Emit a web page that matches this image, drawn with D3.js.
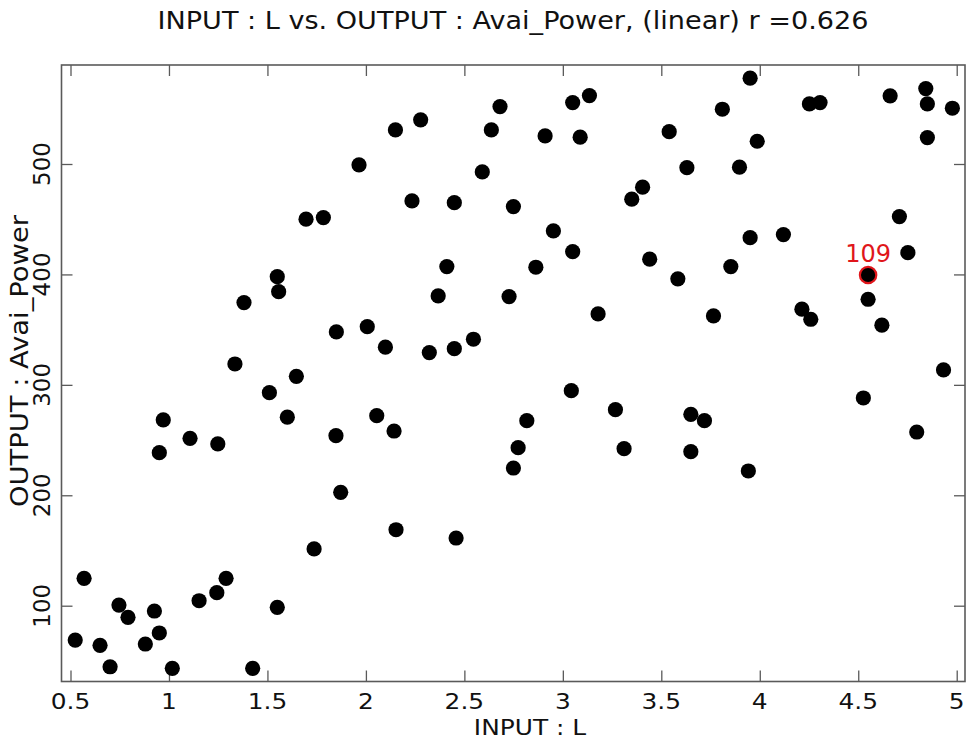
<!DOCTYPE html>
<html>
<head>
<meta charset="utf-8">
<script src="https://cdn.jsdelivr.net/npm/d3@7"></script>
<style>
  html, body { margin: 0; padding: 0; background: #fff; }
  svg { display: block; font-family: "DejaVu Sans", Verdana, sans-serif; }
</style>
</head>
<body>
<svg id="chart" width="967" height="741"></svg>
<script>
// ---- data ----
const titleText = "INPUT : L vs. OUTPUT : Avai_Power, (linear) r =0.626";
const xLabelText = "INPUT : L";
const yLabelText = "OUTPUT : Avai_Power";
const xTicks = [0.5, 1, 1.5, 2, 2.5, 3, 3.5, 4, 4.5, 5];
const xTickLabels = ["0.5", "1", "1.5", "2", "2.5", "3", "3.5", "4", "4.5", "5"];
const yTicks = [100, 200, 300, 400, 500];
const yTickLabels = ["100", "200", "300", "400", "500"];

const inputL = [
  1.696, 1.784, 1.550, 1.557, 1.381, 1.335, 1.647, 1.850, 2.150, 2.278,
  1.965, 2.681, 2.637, 3.050, 3.135, 2.910, 3.088, 2.591, 3.405, 3.350,
  2.234, 2.449, 2.749, 2.952, 3.050, 3.441, 2.411, 2.863, 2.367, 2.727,
  3.179, 2.007, 2.099, 2.322, 2.449, 2.546, 3.951, 3.810, 4.252, 4.306,
  4.662, 4.843, 4.851, 4.978, 4.851, 3.540, 3.987, 3.630, 3.897, 4.709,
  3.951, 4.120, 4.752, 3.853, 3.584, 4.550, 4.550, 3.765, 4.214, 4.259,
  4.620, 4.933, 1.510, 1.601, 0.971, 0.951, 1.107, 1.248, 1.737, 0.569,
  1.290, 1.243, 1.153, 0.746, 0.792, 0.926, 1.550, 0.524, 0.650, 0.880,
  0.951, 0.701, 1.017, 1.425, 1.848, 1.872, 2.055, 2.143, 2.153, 2.458,
  2.817, 2.773, 2.749, 3.043, 3.267, 3.311, 3.650, 3.719, 3.650, 3.942,
  4.526, 4.797
];
const availPower = [
  450.0, 451.5, 398.0, 384.4, 374.5, 318.9, 307.7, 347.9, 530.9, 540.0,
  499.2, 552.0, 530.9, 555.6, 562.0, 525.4, 524.3, 492.8, 479.0, 468.1,
  466.6, 465.0, 461.4, 439.4, 420.7, 413.8, 407.1, 406.5, 380.5, 379.9,
  364.2, 352.7, 334.1, 329.2, 332.8, 341.3, 577.7, 549.6, 554.4, 555.6,
  561.7, 568.3, 554.4, 550.5, 523.9, 529.3, 520.6, 496.7, 497.1, 452.4,
  433.3, 436.1, 419.7, 407.1, 396.0, 399.5, 377.5, 362.4, 368.5, 359.4,
  354.0, 313.5, 292.9, 270.7, 268.2, 238.6, 251.6, 246.5, 151.4, 124.8,
  124.8, 111.8, 104.5, 100.6, 89.5, 95.2, 98.5, 68.9, 64.1, 65.3,
  75.3, 44.7, 43.3, 43.3, 254.0, 202.7, 272.1, 258.2, 168.8, 161.3,
  267.6, 243.1, 224.7, 294.7, 277.5, 242.2, 273.3, 267.6, 239.5, 222.0,
  288.1, 257.3
];
const highlightIndex = 55;
const highlightLabel = "109";

// ---- layout ----
const svg = d3.select("#chart");
const plotLeft = 61.5, plotRight = 965, plotTop = 65, plotBottom = 681.5;
const xDomain = [0.4543, 5.0421];
const yDomain = [31.36, 589.65];
const x = d3.scaleLinear().domain(xDomain).range([plotLeft, plotRight]);
const y = d3.scaleLinear().domain(yDomain).range([plotBottom, plotTop]);
const frameColor = "#5a5a5a";
const stretch = 1.13;

// title
svg.append("text")
  .attr("x", 513).attr("y", 29)
  .attr("text-anchor", "middle")
  .attr("font-size", 24)
  .attr("fill", "#111")
  .attr("textLength", 711)
  .attr("lengthAdjust", "spacingAndGlyphs")
  .text(titleText);

// axes (ticks inward on all sides)
const tickLen = 11;
const axB = d3.axisBottom(x).tickValues(xTicks).tickSize(tickLen).tickFormat("");
const axT = d3.axisTop(x).tickValues(xTicks).tickSize(tickLen).tickFormat("");
const axL = d3.axisLeft(y).tickValues(yTicks).tickSize(tickLen).tickFormat("");
const axR = d3.axisRight(y).tickValues(yTicks).tickSize(tickLen).tickFormat("");

function styleAxis(g) {
  g.select(".domain").remove();
  g.selectAll(".tick line").attr("stroke", frameColor).attr("stroke-width", 1.3);
}
svg.append("g").attr("transform", `translate(0,${plotBottom - tickLen})`).call(axB).call(styleAxis);
svg.append("g").attr("transform", `translate(0,${plotTop + tickLen})`).call(axT).call(styleAxis);
svg.append("g").attr("transform", `translate(${plotLeft + tickLen},0)`).call(axL).call(styleAxis);
svg.append("g").attr("transform", `translate(${plotRight - tickLen},0)`).call(axR).call(styleAxis);

// frame
svg.append("rect")
  .attr("x", plotLeft).attr("y", plotTop)
  .attr("width", plotRight - plotLeft).attr("height", plotBottom - plotTop)
  .attr("fill", "none").attr("stroke", frameColor).attr("stroke-width", 1.6);

// x tick labels
svg.append("g").selectAll("text")
  .data(xTicks)
  .join("text")
  .attr("transform", (d) => `translate(${x(d)},709) scale(${stretch},1)`)
  .attr("text-anchor", "middle")
  .attr("font-size", 22)
  .attr("fill", "#111")
  .text((d, i) => xTickLabels[i]);

// y tick labels (rotated)
svg.append("g").selectAll("text")
  .data(yTicks)
  .join("text")
  .attr("transform", (d) => `translate(50,${y(d)}) rotate(-90)`)
  .attr("text-anchor", "middle")
  .attr("font-size", 23)
  .attr("fill", "#111")
  .text((d, i) => yTickLabels[i]);

// axis labels
svg.append("text")
  .attr("transform", `translate(530,735) scale(${stretch},1)`)
  .attr("text-anchor", "middle")
  .attr("font-size", 22)
  .attr("fill", "#111")
  .text(xLabelText);

svg.append("text")
  .attr("transform", "translate(28,361) rotate(-90)")
  .attr("text-anchor", "middle")
  .attr("font-size", 24)
  .attr("fill", "#111")
  .attr("textLength", 292)
  .attr("lengthAdjust", "spacingAndGlyphs")
  .text(yLabelText);

// points
const pts = inputL.map((v, i) => ({ x: v, y: availPower[i], i }));
svg.append("g").selectAll("circle")
  .data(pts)
  .join("circle")
  .attr("cx", (d) => x(d.x))
  .attr("cy", (d) => y(d.y))
  .attr("r", 7.6)
  .attr("fill", "#000");

// highlighted point
const hp = pts[highlightIndex];
svg.append("circle")
  .attr("cx", x(hp.x)).attr("cy", y(hp.y))
  .attr("r", 8.2)
  .attr("fill", "#000")
  .attr("stroke", "#e0161b")
  .attr("stroke-width", 2.2);
svg.append("text")
  .attr("x", x(hp.x)).attr("y", y(hp.y) - 12.5)
  .attr("text-anchor", "middle")
  .attr("font-size", 24)
  .attr("fill", "#e0161b")
  .text(highlightLabel);
</script>
</body>
</html>
